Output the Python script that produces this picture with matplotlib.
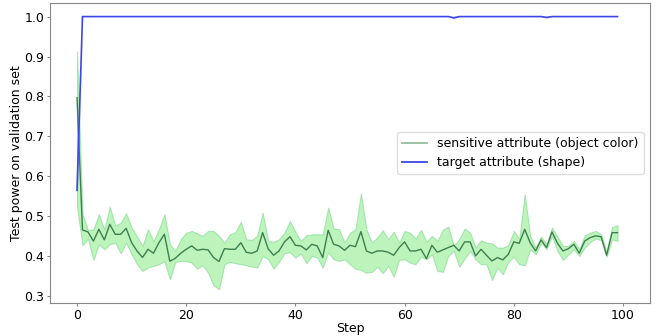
import numpy as np
import matplotlib
matplotlib.use("Agg")
import matplotlib.pyplot as plt
from matplotlib.lines import Line2D

steps = list(range(100))

sens_mean = [0.797, 0.466, 0.461, 0.438, 0.4675, 0.441, 0.48, 0.455, 0.455, 0.47,
             0.434, 0.413, 0.397, 0.4175, 0.4075, 0.434, 0.455, 0.3875, 0.395, 0.4075,
             0.4175, 0.426, 0.415, 0.4175, 0.416, 0.397, 0.387, 0.419, 0.4175, 0.4175,
             0.434, 0.41, 0.4075, 0.4133, 0.4592, 0.419, 0.4025, 0.4133, 0.436, 0.449,
             0.4275, 0.4258, 0.416, 0.43, 0.4258, 0.3967, 0.465, 0.43, 0.4258, 0.415,
             0.4275, 0.424, 0.4617, 0.4133, 0.4075, 0.4133, 0.4133, 0.41, 0.4025, 0.4217,
             0.436, 0.4133, 0.4133, 0.4175, 0.394, 0.4275, 0.41, 0.416, 0.4217, 0.4275,
             0.4133, 0.436, 0.436, 0.4008, 0.4175, 0.4025, 0.3883, 0.3967, 0.391, 0.405,
             0.436, 0.4325, 0.4675, 0.434, 0.4133, 0.441, 0.4217, 0.461, 0.4325, 0.4133,
             0.419, 0.43, 0.4075, 0.4383, 0.4467, 0.451, 0.449, 0.4025, 0.459, 0.459]

sens_upper = [0.913, 0.505, 0.466, 0.467, 0.505, 0.467, 0.524, 0.476, 0.484, 0.5075,
              0.472, 0.449, 0.4258, 0.4675, 0.438, 0.4675, 0.505, 0.43, 0.4133, 0.4425,
              0.459, 0.4633, 0.4575, 0.451, 0.4633, 0.4633, 0.451, 0.434, 0.455, 0.46,
              0.486, 0.4425, 0.441, 0.451, 0.5092, 0.4383, 0.436, 0.4425, 0.459, 0.4883,
              0.461, 0.4383, 0.4525, 0.455, 0.455, 0.455, 0.5217, 0.4692, 0.4675, 0.434,
              0.459, 0.4675, 0.5575, 0.4675, 0.434, 0.4467, 0.465, 0.4425, 0.461, 0.434,
              0.4633, 0.459, 0.444, 0.466, 0.436, 0.451, 0.4383, 0.466, 0.474, 0.4258,
              0.4425, 0.4692, 0.459, 0.4217, 0.44, 0.434, 0.4325, 0.4217, 0.4217, 0.4275,
              0.4633, 0.4425, 0.555, 0.451, 0.4217, 0.449, 0.43, 0.4717, 0.449, 0.4258,
              0.4258, 0.4383, 0.4175, 0.4525, 0.459, 0.4633, 0.455, 0.411, 0.4733, 0.4775]

sens_lower = [0.525, 0.4275, 0.444, 0.391, 0.43, 0.4175, 0.43, 0.434, 0.4075, 0.434,
              0.405, 0.38, 0.3633, 0.3717, 0.3758, 0.38, 0.3883, 0.3425, 0.386, 0.388,
              0.388, 0.384, 0.369, 0.3775, 0.359, 0.3275, 0.3175, 0.38, 0.386, 0.3825,
              0.38, 0.3775, 0.374, 0.3717, 0.4008, 0.3925, 0.369, 0.386, 0.4075, 0.41,
              0.3967, 0.4075, 0.3825, 0.4008, 0.3967, 0.3717, 0.41, 0.3925, 0.3883, 0.3925,
              0.38, 0.369, 0.3658, 0.359, 0.361, 0.374, 0.3575, 0.376, 0.349, 0.391,
              0.3925, 0.384, 0.38, 0.399, 0.3925, 0.405, 0.3633, 0.361, 0.4008, 0.4133,
              0.374, 0.394, 0.4133, 0.3925, 0.38, 0.38, 0.3408, 0.3717, 0.355, 0.386,
              0.399, 0.38, 0.3775, 0.4175, 0.405, 0.434, 0.4175, 0.451, 0.4133, 0.391,
              0.405, 0.4175, 0.4008, 0.4217, 0.436, 0.444, 0.441, 0.399, 0.4425, 0.4383]

target_mean = [0.565] + [1.0] * 99
target_mean[69] = 0.997
target_mean[86] = 0.998
target_upper = [0.605] + [1.0] * 99
target_lower = [0.525] + [1.0] * 99
target_lower[69] = 0.994
target_lower[86] = 0.996

labels = ["sensitive attribute (object color)", "target attribute (shape)"]

fig = plt.figure(figsize=(6.56, 3.36), dpi=100)
ax = fig.add_axes([50/656, 1 - 303/336, (650-50)/656, (303-3)/336])

ax.fill_between(steps, sens_lower, sens_upper, color="#90ee90", alpha=0.6, linewidth=0.8,
                edgecolor="#7fd98f")
ax.plot(steps, sens_mean, color="#3f7f4f", linewidth=1.0)
ax.fill_between(steps, target_lower, target_upper, color="#8f9cf5", alpha=0.6, linewidth=0)
ax.plot(steps, target_mean, color="#3c46e6", linewidth=1.2)

handles = [Line2D([0], [0], color="#96be9f", linewidth=1.3),
           Line2D([0], [0], color="#3c46e6", linewidth=1.3)]
ax.legend(handles, labels, loc="center right", fontsize=9,
          framealpha=1.0, edgecolor="#dddddd")

ax.set_xlim(-4.95, 104.95)
ax.set_ylim(0.283, 1.034)
ax.set_xticks([0, 20, 40, 60, 80, 100])
ax.set_yticks([0.3, 0.4, 0.5, 0.6, 0.7, 0.8, 0.9, 1.0])
ax.set_xlabel("Step", fontsize=9, labelpad=0)
ax.set_ylabel("Test power on validation set", fontsize=9, labelpad=1)
ax.tick_params(labelsize=9, color="#888888", length=2.5, pad=1.5)
for s in ax.spines.values():
    s.set_color("#888888")

fig.savefig("out.png", dpi=100)
